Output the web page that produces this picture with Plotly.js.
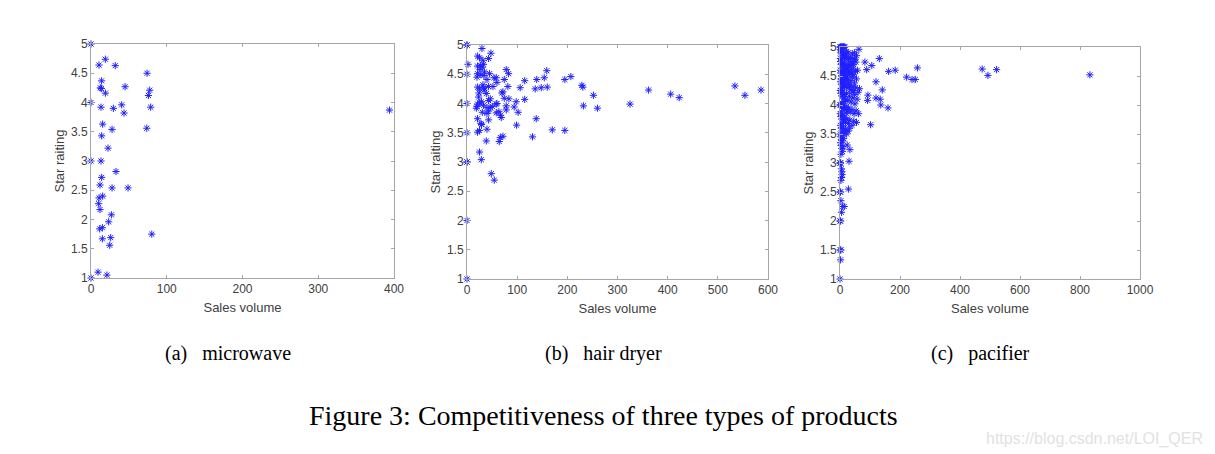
<!DOCTYPE html>
<html>
<head>
<meta charset="utf-8">
<script src="https://cdn.plot.ly/plotly-3.0.1.min.js"></script>
<style>
  html, body { margin: 0; padding: 0; background: #ffffff; }
  #chart { width: 1215px; height: 454px; }
</style>
</head>
<body>
<div id="chart"></div>
<script>
// ---------- data ----------
const figureTitle = "Figure 3: Competitiveness of three types of products";
const captions = ["(a)\u00a0\u00a0\u00a0microwave", "(b)\u00a0\u00a0\u00a0hair dryer", "(c)\u00a0\u00a0\u00a0pacifier"];
const xAxisTitle = "Sales volume";
const yAxisTitle = "Star raiting";
const watermark = "https://blog.csdn.net/LOI_QER";

const microwaveSales = [0, 0, 0, 0, 10.6, 18.9, 32, 74, 14, 12.3, 13.7, 19, 45, 77.5, 75.8, 40.5, 13.2, 29.5, 43.6, 78.8,
  15.4, 27.8, 73.6, 14.1, 22.5, 13.2, 33, 14.1, 11.9, 27.8, 48.9, 10.6, 15.4, 10.1, 11.9, 26.9, 23.3, 11.5, 15, 26,
  15, 24.7, 80.2, 9.3, 21, 394];
const microwaveStars = [5, 4, 3, 1, 4.64, 4.74, 4.63, 4.50, 4.37, 4.25, 4.24, 4.16, 4.27, 4.21, 4.12, 3.96, 3.92, 3.90, 3.82, 3.92,
  3.63, 3.54, 3.56, 3.43, 3.22, 3.00, 2.82, 2.72, 2.59, 2.54, 2.54, 2.37, 2.40, 2.27, 2.17, 2.08, 1.96, 1.84, 1.86, 1.69,
  1.67, 1.56, 1.75, 1.10, 1.05, 3.87];

const hairDryerSales = [0, 0, 2, 0, 0, 0, 0, 0, 0, 0, 29.8, 47.7, 21.2, 25, 43, 31.8, 33, 26.5, 21, 30.5,
  25.9, 35, 21, 27.8, 33.8, 45, 19.9, 53.7, 58.3, 78.2, 82.9, 39.8, 74.3, 59.7, 31.8, 21.2, 25.2, 33.2, 43, 51.7,
  33.8, 81.5, 115, 106, 139, 148, 136, 159, 154, 160, 195, 207, 229, 231, 252, 232, 260, 325, 362, 406,
  423, 534, 554, 586, 23.9, 38.5, 46.4, 43, 69.6, 71.6, 74.3, 83.5, 115, 98, 58.3, 59.7, 23.2, 21, 25.2, 29,
  19.9, 18.6, 33, 50.4, 39.8, 46.4, 78.2, 94, 78.2, 102, 30.5, 43, 63.6, 67, 58.3, 39.8, 43, 21, 68.3, 138,
  27.8, 29, 98.8, 39.8, 21, 25, 170, 195, 71.6, 66.3, 130.6, 64.3, 38.5, 25, 28.5, 48.4, 54.4];
const hairDryerStars = [5, 5, 4.67, 4.5, 4.0, 3.5, 3.0, 3.0, 2.0, 1.0, 4.94, 4.86, 4.81, 4.78, 4.77, 4.74, 4.67, 4.65, 4.64, 4.62,
  4.58, 4.54, 4.51, 4.49, 4.48, 4.51, 4.45, 4.44, 4.44, 4.58, 4.51, 4.41, 4.41, 4.36, 4.32, 4.28, 4.25, 4.27, 4.29, 4.29,
  4.23, 4.29, 4.39, 4.27, 4.41, 4.27, 4.25, 4.56, 4.44, 4.28, 4.41, 4.46, 4.31, 4.28, 4.14, 3.96, 3.92, 3.99, 4.23, 4.16,
  4.10, 4.30, 4.14, 4.23, 4.18, 4.17, 4.08, 4.05, 4.18, 4.20, 4.09, 4.08, 4.07, 4.03, 3.99, 4.00, 4.11, 3.99, 4.01, 4.03,
  3.95, 3.92, 3.97, 3.95, 3.93, 3.93, 3.96, 3.94, 3.89, 3.85, 3.85, 3.87, 3.86, 3.80, 3.84, 3.83, 3.72, 3.74, 3.76, 3.74,
  3.66, 3.64, 3.63, 3.56, 3.51, 3.54, 3.55, 3.54, 3.44, 3.42, 3.43, 3.35, 3.36, 3.17, 3.04, 2.80, 2.69];

const pacifierSales = [0, 2, 4, 6, 8, 10, 12, 14, 16, 1, 3, 5, 7, 9, 12, 15, 18, 22, 26, 30,
  35, 40, 45, 50, 55, 48, 1, 2, 4, 6, 8, 10, 13, 16, 20, 24, 28, 33, 38, 44,
  52, 58, 1, 3, 5, 7, 9, 11, 14, 17, 21, 25, 30, 36, 42, 48, 55, 2, 4, 6,
  8, 10, 12, 15, 19, 23, 27, 32, 38, 45, 52, 60, 65, 1, 3, 5, 7, 9, 11, 14,
  18, 22, 26, 31, 37, 43, 50, 57, 0, 2, 4, 6, 8, 10, 13, 16, 20, 24, 29, 34,
  40, 47, 54, 62, 1, 3, 5, 7, 9, 12, 15, 19, 23, 28, 33, 40, 46, 55, 2, 4,
  6, 8, 11, 14, 18, 22, 27, 32, 1, 3, 5, 7, 9, 12, 2, 4, 6, 8, 10, 3,
  0, 1, 2, 5, 6, 7, 5, 3, 2, 0, 3, 9, 14, 5, 0, 2, 1, 3, 2, 0,
  474, 493, 522, 833, 258, 222, 240, 251, 184, 162, 131, 106, 83, 89, 120, 141, 93, 92, 120, 134,
  136, 160, 102, 63, 28, 30, 33, 24,
  20, 27, 34, 41, 47, 53, 11, 17, 24, 31, 38, 46, 9, 19, 29, 39, 49, 6, 13, 21];
const pacifierStars = [5, 5, 5, 5, 5, 5, 5, 5, 5, 4.95, 4.9, 4.93, 4.88, 4.85, 4.9, 4.82, 4.86, 4.92, 4.78, 4.8,
  4.72, 4.75, 4.7, 4.78, 4.85, 4.9, 4.8, 4.75, 4.7, 4.78, 4.72, 4.68, 4.74, 4.65, 4.7, 4.62, 4.68, 4.6, 4.55, 4.62,
  4.58, 4.6, 4.6, 4.55, 4.5, 4.58, 4.52, 4.6, 4.48, 4.55, 4.5, 4.45, 4.52, 4.42, 4.48, 4.38, 4.45, 4.4, 4.45, 4.35,
  4.42, 4.3, 4.38, 4.32, 4.4, 4.3, 4.35, 4.28, 4.32, 4.25, 4.3, 4.22, 4.28, 4.25, 4.2, 4.28, 4.15, 4.22, 4.12, 4.18,
  4.1, 4.2, 4.08, 4.15, 4.05, 4.12, 4.02, 4.1, 4, 4, 4, 4.02, 3.98, 3.95, 4.0, 3.92, 3.97, 3.9, 3.95, 3.88,
  3.92, 3.85, 3.9, 3.85, 3.85, 3.8, 3.88, 3.75, 3.82, 3.72, 3.78, 3.7, 3.76, 3.68, 3.74, 3.65, 3.72, 3.7, 3.65, 3.6,
  3.68, 3.55, 3.62, 3.52, 3.58, 3.5, 3.55, 3.6, 3.5, 3.45, 3.4, 3.48, 3.38, 3.42, 3.35, 3.3, 3.25, 3.2, 3.28, 3.15,
  3, 3, 3, 2.9, 2.85, 2.8, 2.75, 2.7, 2.5, 2.5, 2.35, 2.25, 2.25, 2.15, 2, 2, 1.5, 1.5, 1.33, 1,
  4.62, 4.51, 4.61, 4.52, 4.64, 4.48, 4.44, 4.44, 4.60, 4.58, 4.80, 4.68, 4.74, 4.61, 4.40, 4.26, 4.17, 4.08, 4.12, 4.10,
  4.00, 3.95, 3.66, 4.96, 2.55, 3.03, 3.23, 3.31,
  4.84, 4.9, 4.82, 4.88, 4.8, 4.74, 4.66, 4.58, 4.64, 4.56, 4.67, 4.52, 4.35, 4.44, 4.38, 4.22, 4.18, 3.98, 4.06, 3.86];

const xRanges = [[0, 400], [0, 600], [0, 1000]];
const xDticks = [100, 100, 200];

// ---------- layout ----------
const W = 1215, H = 454;
const boxes = [ // pixel boxes [left, right, top, bottom]
  [91, 394, 44, 278],
  [467, 768, 45, 279],
  [840, 1140, 47, 279]
];
const captionX = [228, 603, 980];

const markerStyle = {
  symbol: 'asterisk-open',
  size: 6,
  color: '#2020ff',
  line: { color: '#2020ff', width: 1 }
};

const series = [
  [microwaveSales, microwaveStars],
  [hairDryerSales, hairDryerStars],
  [pacifierSales, pacifierStars]
];

const traces = series.map((s, i) => ({
  type: 'scatter',
  mode: 'markers',
  x: s[0],
  y: s[1],
  xaxis: i === 0 ? 'x' : 'x' + (i + 1),
  yaxis: i === 0 ? 'y' : 'y' + (i + 1),
  marker: markerStyle,
  cliponaxis: false,
  hoverinfo: 'x+y',
  showlegend: false
}));

const axisCommon = {
  showline: true,
  linecolor: '#a6a6a6',
  linewidth: 1,
  mirror: 'allticks',
  ticks: 'inside',
  ticklen: 3,
  tickcolor: '#a6a6a6',
  showgrid: false,
  zeroline: false,
  tickfont: { family: 'Arial, Liberation Sans, sans-serif', size: 12, color: '#404040' },
  fixedrange: true
};
const titleFont = { family: 'Arial, Liberation Sans, sans-serif', size: 13, color: '#404040' };

const layout = {
  width: W,
  height: H,
  margin: { l: 0, r: 0, t: 0, b: 0 },
  paper_bgcolor: '#ffffff',
  plot_bgcolor: '#ffffff',
  showlegend: false,
  annotations: [],
};

boxes.forEach((b, i) => {
  const sx = i === 0 ? '' : String(i + 1);
  layout['xaxis' + sx] = Object.assign({}, axisCommon, {
    domain: [b[0] / W, b[1] / W],
    range: xRanges[i],
    dtick: xDticks[i],
    tick0: 0,
    anchor: 'y' + sx,
    title: { text: xAxisTitle, font: titleFont, standoff: 7 }
  });
  layout['yaxis' + sx] = Object.assign({}, axisCommon, {
    domain: [1 - b[3] / H, 1 - b[2] / H],
    range: [1, 5],
    dtick: 0.5,
    tick0: 1,
    anchor: 'x' + sx,
    title: { text: yAxisTitle, font: titleFont, standoff: 3 }
  });
  layout.annotations.push({
    text: captions[i],
    xref: 'paper', yref: 'paper',
    x: captionX[i] / W, y: 1 - 353 / H,
    xanchor: 'center', yanchor: 'middle',
    showarrow: false,
    font: { family: 'Liberation Serif, Times New Roman, serif', size: 20, color: '#000000' }
  });
});

layout.annotations.push({
  text: figureTitle,
  xref: 'paper', yref: 'paper',
  x: 603 / W, y: 1 - 415 / H,
  xanchor: 'center', yanchor: 'middle',
  showarrow: false,
  font: { family: 'Liberation Serif, Times New Roman, serif', size: 28, color: '#000000' }
});
layout.annotations.push({
  text: watermark,
  xref: 'paper', yref: 'paper',
  x: 1205 / W, y: 1 - 439 / H,
  xanchor: 'right', yanchor: 'middle',
  showarrow: false,
  font: { family: 'Liberation Sans, Arial, sans-serif', size: 16, color: '#e2e2e2' }
});

Plotly.newPlot('chart', traces, layout, { displayModeBar: false, staticPlot: false });
</script>
</body>
</html>
